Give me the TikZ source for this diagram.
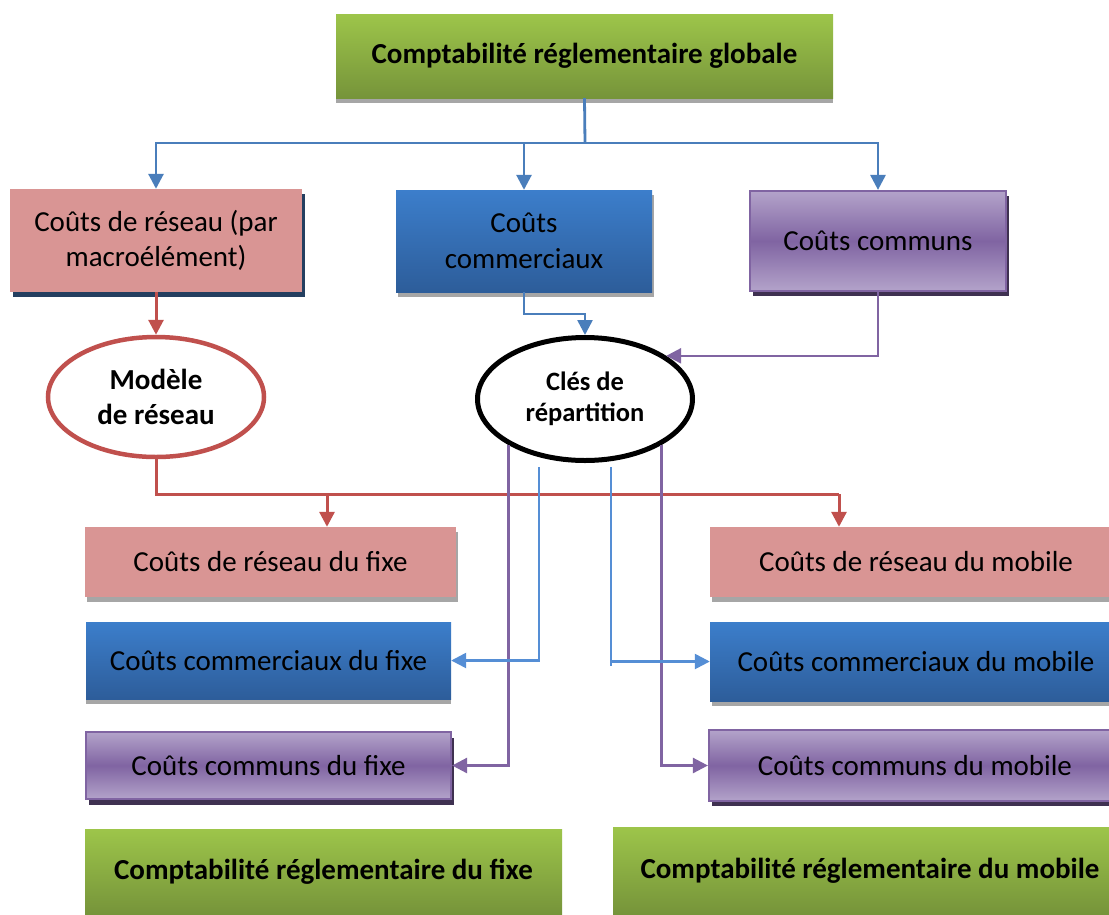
\documentclass[tikz,border=0pt]{standalone}
\usepackage{fontspec}
\setmainfont{Carlito}
\usetikzlibrary{shapes.geometric,arrows.meta,shadows}
\definecolor{gTop}{HTML}{9DC54A}
\definecolor{gBot}{HTML}{76943A}
\definecolor{bTop}{HTML}{3C7ECB}
\definecolor{bBot}{HTML}{2D5D9A}
\definecolor{pLight}{HTML}{B3A3CA}
\definecolor{pDark}{HTML}{8064A2}
\definecolor{cPink}{HTML}{D99594}
\definecolor{cShGray}{HTML}{A6A6A6}
\definecolor{cShNavy}{HTML}{243F60}
\definecolor{cShPurp}{HTML}{3F3151}
\definecolor{cLineBlue}{HTML}{4A7EBB}
\definecolor{cLineLBlue}{HTML}{558ED5}
\definecolor{cLineRed}{HTML}{C0504D}
\definecolor{cLinePurp}{HTML}{8064A2}
\tikzset{
  box/.style={rectangle, inner sep=0pt, align=center, text=black,
    font=\fontsize{29}{35.4}\selectfont},
  greenbox/.style={box, top color=gTop, bottom color=gBot,
    font=\bfseries\fontsize{29}{35.4}\selectfont},
  pinkbox/.style={box, fill=cPink},
  bluebox/.style={box, top color=bTop, bottom color=bBot},
  purpbox/.style={box, top color=pLight, bottom color=pLight, middle color=pDark,
    draw=pDark, line width=2.2pt},
  shGray/.style 2 args={drop shadow={shadow xshift=#1pt, shadow yshift=-#2pt, fill=cShGray, opacity=1}},
  shNavy/.style 2 args={drop shadow={shadow xshift=#1pt, shadow yshift=-#2pt, fill=cShNavy, opacity=1}},
  shPurp/.style 2 args={drop shadow={shadow xshift=#1pt, shadow yshift=-#2pt, fill=cShPurp, opacity=1}},
  oval/.style={ellipse, fill=white, inner sep=0pt, align=center, text=black},
  tip/.style={-{Triangle[length=15pt,width=15pt]}},
  lnBlue/.style={draw=cLineBlue, line width=2.8pt},
  lnLBlue/.style={draw=cLineLBlue, line width=2.5pt},
  lnRed/.style={draw=cLineRed, line width=3pt},
  lnPurp/.style={draw=cLinePurp, line width=2.6pt},
}
\begin{document}
\begin{tikzpicture}[x=1pt,y=-1pt]
\useasboundingbox (0,0) rectangle (1109,914);
\clip (0,0) rectangle (1109,914);
\fill[white] (0,0) rectangle (1109,914);

% top level
\node[greenbox, shGray={0}{5}, minimum width=497pt, minimum height=84pt] (top) at (584.5,56) {Comptabilité réglementaire globale};

% second row
\node[pinkbox, shNavy={3}{5}, minimum width=292pt, minimum height=103pt] (reseau) at (156,240.5) {Coûts de réseau (par\\macroélément)};
\node[bluebox, shGray={2}{5}, minimum width=256pt, minimum height=102pt] (com) at (524,241) {Coûts\\commerciaux};
\node[purpbox, shPurp={3}{5}, minimum width=256pt, minimum height=100pt] (communs) at (878,241) {Coûts communs};

% ellipses
\node[oval, draw=cLineRed, line width=4.5pt, minimum width=216pt, minimum height=120pt,
  font=\bfseries\fontsize{29}{35.4}\selectfont] (modele) at (156,397) {Modèle\\de réseau};
\node[oval, draw=black, line width=5pt, minimum width=215pt, minimum height=123pt,
  font=\bfseries\fontsize{26.5}{31.5}\selectfont] (cles) at (585,399) {Clés de\\répartition};

% fixe column
\node[pinkbox, shGray={2}{5}, minimum width=371pt, minimum height=70pt] (rf) at (270.5,562) {Coûts de réseau du fixe};
\node[bluebox, shGray={0}{5}, minimum width=365pt, minimum height=77pt] (ccf) at (268.5,660.5) {Coûts commerciaux du fixe};
\node[purpbox, shPurp={3}{6}, minimum width=365pt, minimum height=67pt] (cmf) at (268.5,765.5) {Coûts communs du fixe};

% mobile column
\node[pinkbox, shGray={2}{5}, minimum width=412pt, minimum height=70pt] (rm) at (916,562) {Coûts de réseau du mobile};
\node[bluebox, shGray={2}{5}, minimum width=412pt, minimum height=79pt] (ccm) at (916,661.5) {Coûts commerciaux du mobile};
\node[purpbox, shPurp={3}{5}, minimum width=412pt, minimum height=71pt] (cmm) at (915,765.5) {Coûts communs du mobile};

% bottom
\node[greenbox, minimum width=477pt, minimum height=85pt] (gf) at (323.5,871.5) {Comptabilité réglementaire du fixe};
\node[greenbox, minimum width=514pt, minimum height=87pt] (gm) at (870,870.5) {Comptabilité réglementaire du mobile};

% connectors from top
\coordinate (j) at (585,143);
\draw[lnBlue] (top.south) -- (j);
\draw[lnBlue,tip] (j) -| (reseau.north);
\draw[lnBlue,tip] (j) -| (com.north);
\draw[lnBlue,tip] (j) -| (communs.north);

% to ellipses
\draw[lnRed,tip] (reseau.south) -- (modele.north);
\draw[lnBlue,line width=2.5pt,tip] (com.south) -- ++(0,22) -| (cles.north);
\draw[lnPurp,tip] (communs.south) |- (cles.28);

% red distribution
\coordinate (rL) at (327,494);
\coordinate (rR) at (839,494);
\draw[lnRed] (modele.south) |- (rR);
\draw[lnRed,tip] (rL) -- (rL |- rf.north);
\draw[lnRed,tip] (rR) -- (rR |- rm.north);

% from cles
\draw[lnPurp,tip] (cles.211) |- (cmf.east);
\draw[lnPurp,tip] (cles.329) |- (cmm.west);
\coordinate (bl1) at (539,467);
\coordinate (br1) at (611,467);
\draw[lnLBlue,tip] (bl1) |- (ccf.east);
\draw[lnLBlue] (br1) -- ++(0,199);
\draw[lnLBlue,tip] (br1 |- ccm.west) -- (ccm.west);
\end{tikzpicture}
\end{document}
